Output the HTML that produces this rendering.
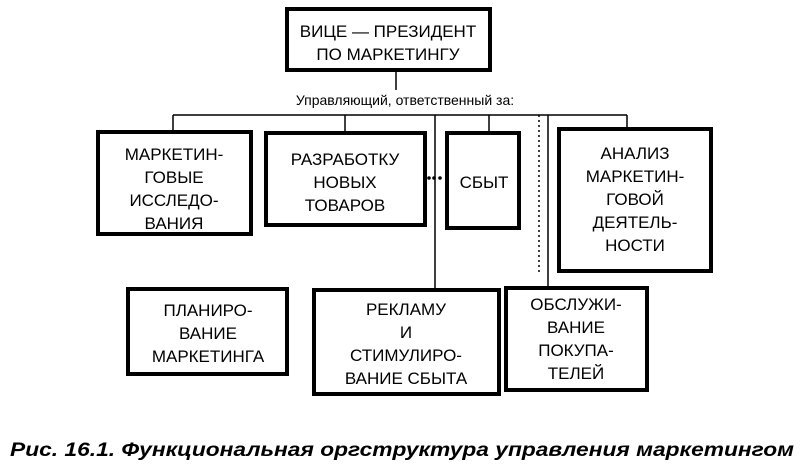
<!DOCTYPE html>
<html><head><meta charset="utf-8"><style>
html,body{margin:0;padding:0;background:#fff;}
svg{display:block;}
text{font-family:"Liberation Sans",sans-serif;font-size:17px;fill:#000;text-anchor:middle;}
</style></head><body>
<svg width="804" height="472" viewBox="0 0 804 472" xmlns="http://www.w3.org/2000/svg">
<g fill="none" stroke="#000">
<!-- boxes -->
<rect x="287" y="9" width="203" height="61" stroke-width="4"/>
<rect x="98" y="132" width="153" height="102" stroke-width="4"/>
<rect x="266" y="133" width="159" height="92" stroke-width="4"/>
<rect x="447" y="133" width="72" height="95" stroke-width="4"/>
<rect x="559" y="129" width="152" height="142" stroke-width="4"/>
<rect x="128" y="289" width="159" height="85" stroke-width="4"/>
<rect x="314" y="290" width="185" height="104" stroke-width="4"/>
<rect x="506" y="288" width="141" height="102" stroke-width="4"/>
<!-- connectors -->
<g stroke-width="1.5">
<line x1="396" y1="70" x2="396" y2="90"/>
<line x1="173" y1="115" x2="627" y2="115"/>
<line x1="173" y1="115" x2="173" y2="132"/>
<line x1="345" y1="115" x2="345" y2="133"/>
<line x1="435" y1="115" x2="435" y2="290"/>
<line x1="489" y1="115" x2="489" y2="133"/>
<line x1="548" y1="115" x2="548" y2="288"/>
<line x1="627" y1="115" x2="627" y2="129"/>
<line x1="539" y1="115" x2="539" y2="275" stroke-dasharray="2 3"/>
</g>
</g>
<circle cx="429" cy="178" r="1.8"/><circle cx="434" cy="178" r="1.8"/><circle cx="440" cy="178" r="1.8"/>
<text x="388" y="37">ВИЦЕ — ПРЕЗИДЕНТ</text>
<text x="388" y="60">ПО МАРКЕТИНГУ</text>
<text x="405" y="105" style="font-size:14px">Управляющий, ответственный за:</text>
<text x="174" y="160">МАРКЕТИН-</text>
<text x="174" y="183">ГОВЫЕ</text>
<text x="174" y="206">ИССЛЕДО-</text>
<text x="174" y="229">ВАНИЯ</text>
<text x="345" y="165">РАЗРАБОТКУ</text>
<text x="345" y="188">НОВЫХ</text>
<text x="345" y="211">ТОВАРОВ</text>
<text x="484" y="188">СБЫТ</text>
<text x="635" y="159">АНАЛИЗ</text>
<text x="635" y="182">МАРКЕТИН-</text>
<text x="635" y="205">ГОВОЙ</text>
<text x="635" y="228">ДЕЯТЕЛЬ-</text>
<text x="635" y="251">НОСТИ</text>
<text x="208" y="316">ПЛАНИРО-</text>
<text x="208" y="339">ВАНИЕ</text>
<text x="208" y="362">МАРКЕТИНГА</text>
<text x="406" y="315">РЕКЛАМУ</text>
<text x="406" y="338">И</text>
<text x="406" y="361">СТИМУЛИРО-</text>
<text x="406" y="384">ВАНИЕ СБЫТА</text>
<text x="576" y="310">ОБСЛУЖИ-</text>
<text x="576" y="333">ВАНИЕ</text>
<text x="576" y="356">ПОКУПА-</text>
<text x="576" y="379">ТЕЛЕЙ</text>
<text x="402" y="456" textLength="784" lengthAdjust="spacingAndGlyphs" style="font-size:19px;font-weight:bold;font-style:italic">Рис. 16.1. Функциональная оргструктура управления маркетингом</text>
</svg>
</body></html>
